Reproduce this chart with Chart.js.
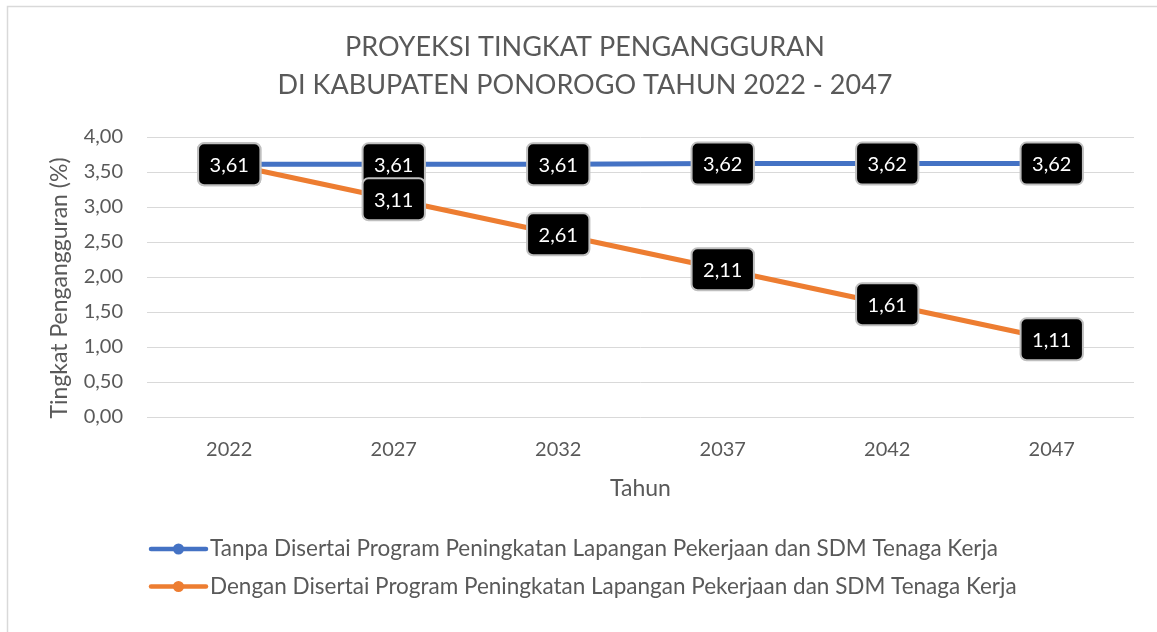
<!DOCTYPE html>
<html>
<head>
<meta charset="utf-8">
<script src="https://cdn.jsdelivr.net/npm/chart.js@4"></script>
<style>
  html, body { margin: 0; padding: 0; background: #ffffff; }
  #wrap { width: 1157px; height: 632px; }
</style>
</head>
<body>
<div id="wrap"><canvas id="chart" width="1157" height="632"></canvas></div>
<script>
// Projection data
const years = ['2022', '2027', '2032', '2037', '2042', '2047'];
const tanpaProgram = [3.61, 3.61, 3.61, 3.62, 3.62, 3.62];
const denganProgram = [3.61, 3.11, 2.61, 2.11, 1.61, 1.11];
const seriesNames = [
  'Tanpa Disertai Program Peningkatan Lapangan Pekerjaan dan SDM Tenaga Kerja',
  'Dengan Disertai Program Peningkatan Lapangan Pekerjaan dan SDM Tenaga Kerja'
];
const titleLines = ['PROYEKSI TINGKAT PENGANGGURAN', 'DI KABUPATEN PONOROGO TAHUN 2022 - 2047'];
const yAxisTitle = 'Tingkat Pengangguran (%)';
const xAxisTitle = 'Tahun';

const FONT = 'Lato, "Open Sans", sans-serif';
const TEXT = '#595959';
const BLUE = '#4472C4';
const ORANGE = '#ED7D31';

const fmt = v => Number(v).toFixed(2).replace('.', ',');

// Outer frame, main title, rotated y-axis title and the legend
const decorations = {
  id: 'decorations',
  beforeDraw(chart) {
    const ctx = chart.ctx;
    ctx.save();
    ctx.fillStyle = '#ffffff';
    ctx.fillRect(0, 0, chart.width, chart.height);
    ctx.strokeStyle = '#d9d9d9';
    ctx.lineWidth = 1.5;
    ctx.strokeRect(7.5, 6.5, chart.width + 20, chart.height + 20);
    ctx.restore();
  },
  afterDraw(chart) {
    const ctx = chart.ctx;
    const area = chart.chartArea;
    ctx.save();
    ctx.fillStyle = TEXT;
    ctx.textBaseline = 'middle';
    ctx.textAlign = 'center';

    // title
    ctx.font = '27px ' + FONT;
    titleLines.forEach((t, i) => ctx.fillText(t, 585, 47 + i * 38));

    // y axis title
    ctx.save();
    ctx.translate(60, 288);
    ctx.rotate(-Math.PI / 2);
    ctx.font = '23px ' + FONT;
    ctx.fillText(yAxisTitle, 0, 0);
    ctx.restore();

    // legend
    ctx.textAlign = 'left';
    ctx.font = '22.5px ' + FONT;
    chart.data.datasets.forEach((ds, i) => {
      const y = 549 + i * 37.5;
      ctx.strokeStyle = ds.borderColor;
      ctx.lineWidth = 4.5;
      ctx.lineCap = 'round';
      ctx.beginPath();
      ctx.moveTo(151, y);
      ctx.lineTo(206, y);
      ctx.stroke();
      ctx.fillStyle = ds.borderColor;
      ctx.beginPath();
      ctx.arc(178.5, y, 5.5, 0, Math.PI * 2);
      ctx.fill();
      ctx.fillStyle = TEXT;
      ctx.fillText(ds.label, 210, y);
    });
    ctx.restore();
  }
};

// Black value boxes centred on every point
const valueBoxes = {
  id: 'valueBoxes',
  afterDatasetsDraw(chart) {
    const ctx = chart.ctx;
    ctx.save();
    ctx.font = '20px ' + FONT;
    ctx.textAlign = 'center';
    ctx.textBaseline = 'middle';
    chart.data.datasets.forEach((ds, di) => {
      const meta = chart.getDatasetMeta(di);
      meta.data.forEach((pt, i) => {
        const label = fmt(ds.data[i]);
        const w = ctx.measureText(label).width + 23;
        const h = 42;
        const x = pt.x - w / 2;
        const y = pt.y - h / 2;
        ctx.beginPath();
        ctx.roundRect(x, y, w, h, 6);
        ctx.fillStyle = '#000000';
        ctx.fill();
        ctx.lineWidth = 2;
        ctx.strokeStyle = '#bfbfbf';
        ctx.stroke();
        ctx.fillStyle = '#ffffff';
        ctx.fillText(label, pt.x, pt.y + 1);
      });
    });
    ctx.restore();
  }
};

function build() {
  new Chart(document.getElementById('chart'), {
    type: 'line',
    data: {
      labels: years,
      datasets: [
        {
          label: seriesNames[0],
          data: tanpaProgram,
          borderColor: BLUE,
          backgroundColor: BLUE,
          borderWidth: 5,
          pointRadius: 5,
          pointBackgroundColor: BLUE,
          pointBorderWidth: 0,
          tension: 0
        },
        {
          label: seriesNames[1],
          data: denganProgram,
          borderColor: ORANGE,
          backgroundColor: ORANGE,
          borderWidth: 5,
          pointRadius: 5,
          pointBackgroundColor: ORANGE,
          pointBorderWidth: 0,
          tension: 0
        }
      ]
    },
    options: {
      responsive: false,
      animation: false,
      devicePixelRatio: 1,
      layout: { padding: { left: 20, right: 23, top: 137, bottom: 120 } },
      plugins: {
        legend: { display: false },
        title: { display: false },
        tooltip: { enabled: false }
      },
      scales: {
        x: {
          offset: true,
          grid: { display: false, drawTicks: false },
          border: { display: false },
          ticks: { color: TEXT, font: { family: FONT, size: 20 }, padding: 21, maxRotation: 0 },
          title: {
            display: true,
            text: xAxisTitle,
            color: TEXT,
            font: { family: FONT, size: 23 },
            padding: { top: 0, bottom: 10 }
          },
          afterFit(scale) { scale.height = 95; }
        },
        y: {
          min: 0,
          max: 4,
          grid: { color: '#d9d9d9', lineWidth: 1, drawTicks: false },
          border: { display: false },
          ticks: {
            stepSize: 0.5,
            color: TEXT,
            font: { family: FONT, size: 20 },
            padding: 24,
            callback: v => fmt(v)
          },
          afterFit(scale) { scale.width = 127; }
        }
      }
    },
    plugins: [decorations, valueBoxes]
  });
}

if (document.fonts && document.fonts.load) {
  Promise.all([document.fonts.load('20px Lato'), document.fonts.load('27px Lato')]).then(build, build);
} else {
  build();
}
</script>
</body>
</html>
